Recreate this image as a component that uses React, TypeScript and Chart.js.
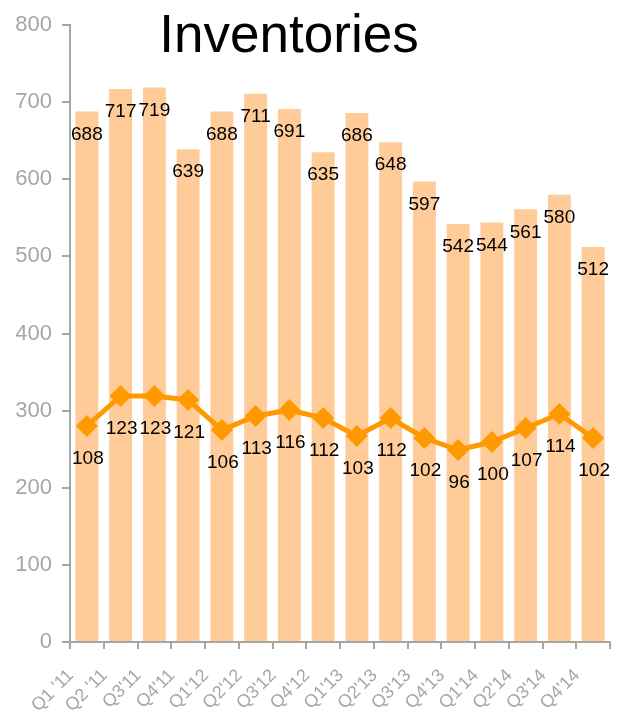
import React, { useEffect, useRef } from "react";
import { Chart, registerables } from "chart.js";

Chart.register(...registerables);

const categories = ["Q1 '11", "Q2 '11", "Q3'11", "Q4'11", "Q1'12", "Q2'12", "Q3'12", "Q4'12", "Q1'13", "Q2'13", "Q3'13", "Q4'13", "Q1'14", "Q2'14", "Q3'14", "Q4'14"];
const inventories = [688, 717, 719, 639, 688, 711, 691, 635, 686, 648, 597, 542, 544, 561, 580, 512];
const secondSeries = [108, 123, 123, 121, 106, 113, 116, 112, 103, 112, 102, 96, 100, 107, 114, 102];
const yTicks = [0, 100, 200, 300, 400, 500, 600, 700, 800];
const titleText = "Inventories";

const FONT = "'Liberation Sans', Arial, sans-serif";
const AXIS_GRAY = "#a6a6a6";

const labelsPlugin = {
  id: "valueLabels",
  afterDatasetsDraw(chart: any) {
    const ctx = chart.ctx;
    ctx.save();
    ctx.fillStyle = "#000";
    ctx.font = `19px ${FONT}`;
    ctx.textAlign = "center";
    ctx.textBaseline = "middle";
    chart.data.datasets.forEach((ds: any, di: number) => {
      const meta = chart.getDatasetMeta(di);
      meta.data.forEach((el: any, i: number) => {
        const v = ds.data[i];
        if (ds.type === "bar") {
          ctx.fillText(String(v), el.x, el.y + 23);
        } else {
          ctx.fillText(String(v), el.x + 1, el.y + 33);
        }
      });
    });
    ctx.restore();
  },
};

const titlePlugin = {
  id: "bigTitle",
  afterDraw(chart: any) {
    const ctx = chart.ctx;
    ctx.save();
    ctx.fillStyle = "#000";
    ctx.font = `53px ${FONT}`;
    ctx.textAlign = "center";
    ctx.textBaseline = "alphabetic";
    ctx.fillText(titleText, 289, 52);
    ctx.restore();
  },
};

export default function App() {
  const ref = useRef<HTMLCanvasElement>(null);
  useEffect(() => {
    document.body.style.margin = "0";
    const canvas = ref.current!;
    const chart = new Chart(canvas, {
      type: "bar",
      data: {
        labels: categories,
        datasets: [
          {
            type: "line",
            label: "Series 2",
            data: secondSeries,
            yAxisID: "y1",
            borderColor: "#FF9900",
            backgroundColor: "#FF9900",
            borderWidth: 5,
            pointStyle: "rectRot",
            pointRadius: 11,
            pointBorderWidth: 0,
            pointBackgroundColor: "#FF9900",
            order: 1,
          } as any,
          {
            type: "bar",
            label: "Inventories",
            data: inventories,
            yAxisID: "y",
            backgroundColor: "#FFCC99",
            categoryPercentage: 1,
            barPercentage: 0.68,
            order: 2,
          } as any,
        ],
      },
      options: {
        responsive: false,
        animation: false,
        layout: { padding: { top: 25, right: 6, left: 0, bottom: 0 } },
        plugins: { legend: { display: false }, tooltip: { enabled: false }, title: { display: false } },
        scales: {
          x: {
            grid: {
              display: true,
              drawOnChartArea: false,
              drawTicks: true,
              tickLength: 7,
              offset: true,
              color: AXIS_GRAY,
              lineWidth: 2,
            },
            border: { display: true, color: AXIS_GRAY, width: 2 },
            ticks: {
              color: AXIS_GRAY,
              font: { family: FONT, size: 18 },
              maxRotation: 45,
              minRotation: 45,
              padding: 16,
              labelOffset: -16,
              autoSkip: false,
            },
            afterFit(scale: any) {
              scale.height = 73;
              scale.paddingLeft = 0;
              scale.paddingRight = 0;
            },
          },
          y: {
            min: 0,
            max: 800,
            afterBuildTicks(scale: any) {
              scale.ticks = yTicks.map((v) => ({ value: v }));
            },
            grid: {
              display: true,
              drawOnChartArea: false,
              drawTicks: true,
              tickLength: 8,
              color: AXIS_GRAY,
              lineWidth: 2,
            },
            border: { display: true, color: AXIS_GRAY, width: 2 },
            ticks: {
              color: AXIS_GRAY,
              font: { family: FONT, size: 22 },
              padding: 10,
            },
            afterFit(scale: any) {
              scale.width = 70;
            },
          },
          y1: {
            display: false,
            min: 0,
            max: 308.5,
          },
        },
      },
      plugins: [labelsPlugin, titlePlugin],
    });
    return () => chart.destroy();
  }, []);
  return <canvas ref={ref} width={621} height={715} style={{ display: "block" }} />;
}
